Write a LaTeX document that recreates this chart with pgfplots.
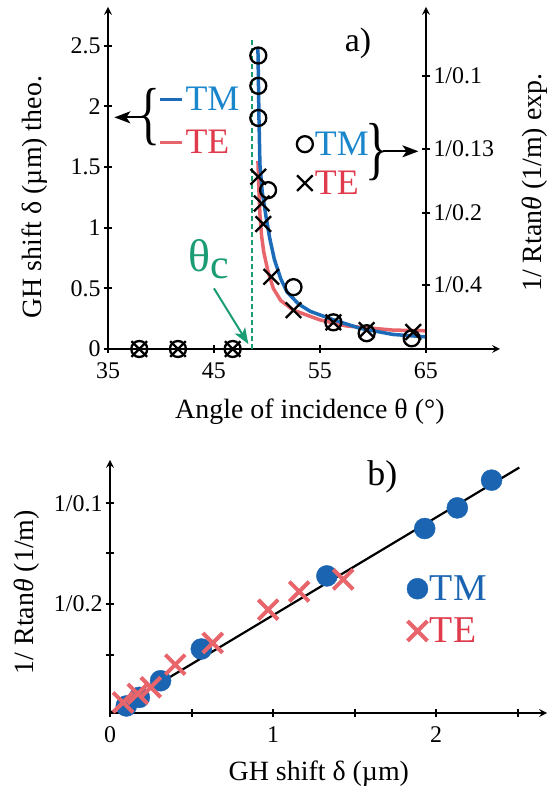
\documentclass[border=0pt]{standalone}
\usepackage{fontspec}
\setmainfont{Liberation Serif}
\usepackage{pgfplots}
\pgfplotsset{compat=1.18}
\usetikzlibrary{arrows.meta}

\definecolor{tmblue}{HTML}{1C6BB8}
\definecolor{tmtext}{HTML}{1A86CC}
\definecolor{tmdot}{HTML}{1A64B2}
\definecolor{tered}{HTML}{E8666B}
\definecolor{tetext}{HTML}{E03B4C}
\definecolor{thgreen}{HTML}{1A9C74}

\newcommand{\fs}[1]{\fontsize{#1}{#1}\selectfont}

\pgfplotsset{
  base/.style={
    scale only axis, clip=false,
    axis line style={line width=2.4bp, -{Stealth[length=18bp,width=13bp,inset=5bp]}},
    major tick length=8bp,
    every tick/.style={black, line width=2bp},
    tick align=outside,
    tick label style={font=\fs{24}},
    xticklabel style={yshift=-6bp},
    /pgf/number format/assume math mode=true,
  },
}

\begin{document}
\begin{tikzpicture}
\useasboundingbox (0,0) rectangle (549bp,792bp);

% ---- a) theory curves, left axis
\begin{axis}[base,
  at={(108bp,443bp)}, anchor=south west, width=392bp, height=342bp,
  axis x line=bottom, axis y line=left,
  xmin=35, xmax=72, ymin=0, ymax=2.82,
  xtick={35,45,55,65}, ytick={0,0.5,1,1.5,2,2.5},
  xlabel={Angle of incidence θ (°)},
  ylabel={GH shift δ (µm) theo.},
  xlabel style={font=\fs{28}, at={(axis description cs:0.515,-0.184)}, anchor=center},
  ylabel style={font=\fs{28}, at={(axis description cs:-0.186,0.444)}, anchor=center},
  legend style={at={(axis cs:39.8,2.18)}, anchor=north west, draw=none, fill=none,
    font=\fs{36}, inner sep=0pt, row sep=14bp},
  legend cell align=left, reverse legend,
  legend image code/.code={\draw[#1,line width=2.5bp] (0bp,0bp) -- (22bp,0bp);},
]
\addplot[tered, line width=3.5bp] coordinates {
  (49.15,1.55) (49.25,1.3) (49.34,1.11) (49.5,0.93) (49.7,0.8) (50.1,0.64)
  (50.6,0.5) (51.3,0.40) (52.5,0.32) (55,0.24) (57.5,0.19) (61.9,0.156) (65,0.15)
};
\addlegendentry{\textcolor{tetext}{TE}}
\addplot[tmblue, line width=3.5bp] coordinates {
  (49.15,2.48) (49.2,2.2) (49.25,1.9) (49.34,1.52) (49.55,1.3) (49.9,1.1)
  (50.25,0.92) (50.7,0.74) (51.3,0.58) (51.9,0.47) (53,0.37) (54.1,0.31)
  (56.3,0.24) (58.8,0.17) (61.9,0.12) (65,0.10)
};
\addlegendentry{\textcolor{tmtext}{TM}}
\addplot[draw=thgreen, dash pattern=on 5bp off 3bp, line width=2bp, forget plot]
  coordinates {(48.55,0) (48.55,2.57)};

\node[font=\fs{34}] at (axis cs:58.6,2.52) {a)};
\node[text=thgreen, font=\fs{46}] at (axis cs:44.5,0.74) {θ\raisebox{-0.14em}{\fs{42}c}};
\draw[thgreen, line width=2bp, -{Stealth[length=16bp,width=12bp,inset=4bp]}]
  (axis cs:45.0,0.50) -- (axis cs:48.25,0.04);
\node at (axis cs:38.9,1.91) {\scalebox{1}[1.45]{\fs{48}\{}};
\draw[line width=1.8bp, -{Stealth[length=16bp,width=12bp,inset=4bp]}]
  (axis cs:38.4,1.91) -- (axis cs:35.6,1.91);
\node at (axis cs:60.4,1.62) {\scalebox{1}[1.45]{\fs{48}\}}};
\draw[line width=1.8bp, -{Stealth[length=16bp,width=12bp,inset=4bp]}]
  (axis cs:61.0,1.63) -- (axis cs:64.3,1.63);
\end{axis}

% ---- a) measured points, right axis
\begin{axis}[base,
  at={(108bp,443bp)}, anchor=south west, width=318bp, height=342bp,
  axis x line=none, axis y line=right,
  xmin=35, xmax=65, ymin=0, ymax=2.82,
  ytick={0.53,1.12,1.65,2.25}, yticklabels={1/0.4,1/0.2,1/0.13,1/0.1},
  ylabel={1/ Rtan\textit{θ} (1/m) exp.},
  ylabel style={font=\fs{28}, at={(axis description cs:1.343,0.486)}, anchor=center},
  legend style={at={(axis cs:52.8,1.81)}, anchor=north west, draw=none, fill=none,
    font=\fs{36}, inner sep=0pt, row sep=10bp},
  legend cell align=left,
]
\addplot[only marks, mark=o, mark size=8bp, line width=2.3bp, black] coordinates {
  (37.95,0) (41.6,0) (46.76,0)
  (49.18,2.42) (49.18,2.17) (49.18,1.905) (50.1,1.31) (52.5,0.51)
  (56.26,0.22) (59.4,0.13) (63.65,0.088)
};
\addlegendentry{\textcolor{tmtext}{TM}}
\addplot[only marks, mark=x, mark size=11bp, line width=2.3bp, black] coordinates {
  (37.95,0) (41.6,0) (46.76,0)
  (49.18,1.42) (49.5,1.20) (49.65,1.03) (50.4,0.595) (52.5,0.32)
  (56.26,0.22) (59.4,0.156) (63.8,0.14)
};
\addlegendentry{\textcolor{tetext}{TE}}
\end{axis}

% ---- b)
\begin{axis}[base,
  at={(110bp,79bp)}, anchor=south west, width=437bp, height=253bp,
  axis x line=bottom, axis y line=left,
  xmin=0, xmax=2.68, ymin=0, ymax=5.02,
  xtick={0,0.5,1,1.5,2,2.5}, xticklabels={0,,1,,2,},
  ytick={1.155,2.165,3.17,4.16}, yticklabels={,1/0.2,,1/0.1},
  xlabel={GH shift δ (µm)},
  ylabel={1/ Rtan\textit{θ} (1/m)},
  xlabel style={font=\fs{28}, at={(axis description cs:0.478,-0.241)}, anchor=center},
  ylabel style={font=\fs{28}, at={(axis description cs:-0.191,0.478)}, anchor=center},
  legend style={at={(axis cs:1.82,2.77)}, anchor=north west, draw=none, fill=none,
    font=\fs{38}, inner sep=0pt, row sep=12bp},
  legend cell align=left,
]
\addplot[black, line width=2.2bp, forget plot] coordinates {(0,0) (2.51,4.87)};
\addplot[only marks, mark=*, mark size=10.5bp, tmdot, mark options={draw=tmdot, fill=tmdot}] coordinates {
  (0.10,0.14) (0.18,0.31) (0.31,0.64) (0.56,1.27)
  (1.33,2.72) (1.93,3.66) (2.13,4.07) (2.34,4.62)
};
\addlegendentry{\textcolor{tmdot}{TM}}
\addplot[only marks, mark=x, mark size=14bp, line width=4bp, tered] coordinates {
  (0.08,0.21) (0.17,0.38) (0.25,0.51) (0.40,0.96)
  (0.63,1.39) (0.97,2.05) (1.16,2.41) (1.43,2.65)
};
\addlegendentry{\textcolor{tetext}{TE}}
\node[font=\fs{36}] at (axis cs:1.67,4.69) {b)};
\end{axis}
\end{tikzpicture}
\end{document}
